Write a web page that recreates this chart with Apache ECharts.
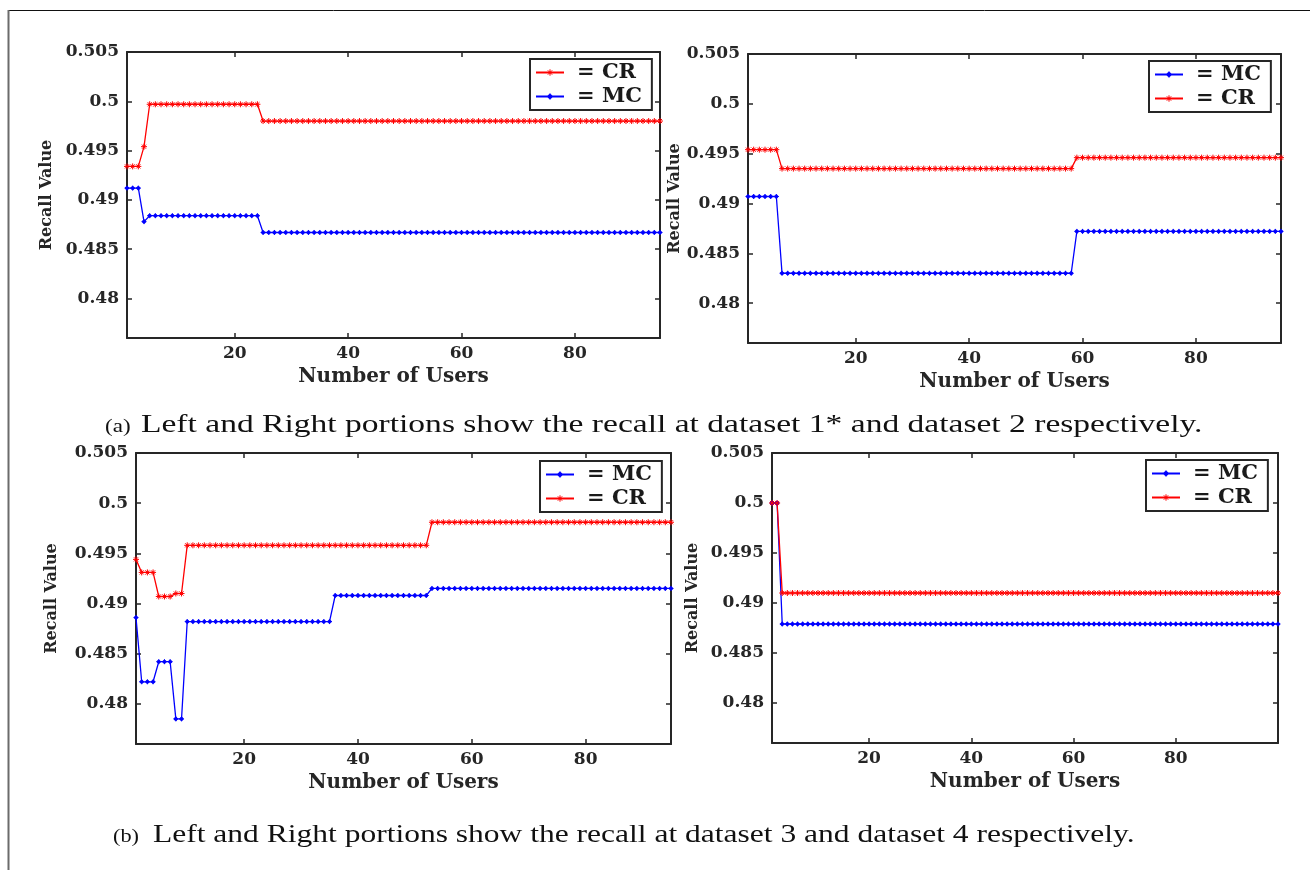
<!DOCTYPE html>
<html>
<head>
<meta charset="utf-8">
<script src="https://cdn.jsdelivr.net/npm/echarts@6/dist/echarts.min.js"></script>
<style>
  html, body { margin: 0; padding: 0; background: #ffffff; }
  #chart { width: 1310px; height: 870px; }
</style>
</head>
<body>
<div id="chart"></div>
<script>
// ---- Axis ticks ----
const yTicks = [0.48, 0.485, 0.49, 0.495, 0.5, 0.505];
const yTickLabels = ['0.48', '0.485', '0.49', '0.495', '0.5', '0.505'];
const xTicks = [20, 40, 60, 80];
const xTickLabels = ['20', '40', '60', '80'];

// ---- Recall per number of users (index 0 = 1 user) ----
// Dataset 1*, users 1-95
const d1CR = [
  0.4934,0.4934,0.4934,0.4954,0.4997,0.4997,0.4997,0.4997,0.4997,0.4997,
  0.4997,0.4997,0.4997,0.4997,0.4997,0.4997,0.4997,0.4997,0.4997,0.4997,
  0.4997,0.4997,0.4997,0.4997,0.4980,0.4980,0.4980,0.4980,0.4980,0.4980,
  0.4980,0.4980,0.4980,0.4980,0.4980,0.4980,0.4980,0.4980,0.4980,0.4980,
  0.4980,0.4980,0.4980,0.4980,0.4980,0.4980,0.4980,0.4980,0.4980,0.4980,
  0.4980,0.4980,0.4980,0.4980,0.4980,0.4980,0.4980,0.4980,0.4980,0.4980,
  0.4980,0.4980,0.4980,0.4980,0.4980,0.4980,0.4980,0.4980,0.4980,0.4980,
  0.4980,0.4980,0.4980,0.4980,0.4980,0.4980,0.4980,0.4980,0.4980,0.4980,
  0.4980,0.4980,0.4980,0.4980,0.4980,0.4980,0.4980,0.4980,0.4980,0.4980,
  0.4980,0.4980,0.4980,0.4980,0.4980
];
const d1MC = [
  0.4912,0.4912,0.4912,0.4878,0.4884,0.4884,0.4884,0.4884,0.4884,0.4884,
  0.4884,0.4884,0.4884,0.4884,0.4884,0.4884,0.4884,0.4884,0.4884,0.4884,
  0.4884,0.4884,0.4884,0.4884,0.4867,0.4867,0.4867,0.4867,0.4867,0.4867,
  0.4867,0.4867,0.4867,0.4867,0.4867,0.4867,0.4867,0.4867,0.4867,0.4867,
  0.4867,0.4867,0.4867,0.4867,0.4867,0.4867,0.4867,0.4867,0.4867,0.4867,
  0.4867,0.4867,0.4867,0.4867,0.4867,0.4867,0.4867,0.4867,0.4867,0.4867,
  0.4867,0.4867,0.4867,0.4867,0.4867,0.4867,0.4867,0.4867,0.4867,0.4867,
  0.4867,0.4867,0.4867,0.4867,0.4867,0.4867,0.4867,0.4867,0.4867,0.4867,
  0.4867,0.4867,0.4867,0.4867,0.4867,0.4867,0.4867,0.4867,0.4867,0.4867,
  0.4867,0.4867,0.4867,0.4867,0.4867
];

// Dataset 2, users 1-95
const d2MC = [
  0.4907,0.4907,0.4907,0.4907,0.4907,0.4907,0.4830,0.4830,0.4830,0.4830,
  0.4830,0.4830,0.4830,0.4830,0.4830,0.4830,0.4830,0.4830,0.4830,0.4830,
  0.4830,0.4830,0.4830,0.4830,0.4830,0.4830,0.4830,0.4830,0.4830,0.4830,
  0.4830,0.4830,0.4830,0.4830,0.4830,0.4830,0.4830,0.4830,0.4830,0.4830,
  0.4830,0.4830,0.4830,0.4830,0.4830,0.4830,0.4830,0.4830,0.4830,0.4830,
  0.4830,0.4830,0.4830,0.4830,0.4830,0.4830,0.4830,0.4830,0.4872,0.4872,
  0.4872,0.4872,0.4872,0.4872,0.4872,0.4872,0.4872,0.4872,0.4872,0.4872,
  0.4872,0.4872,0.4872,0.4872,0.4872,0.4872,0.4872,0.4872,0.4872,0.4872,
  0.4872,0.4872,0.4872,0.4872,0.4872,0.4872,0.4872,0.4872,0.4872,0.4872,
  0.4872,0.4872,0.4872,0.4872,0.4872
];
const d2CR = [
  0.4954,0.4954,0.4954,0.4954,0.4954,0.4954,0.4935,0.4935,0.4935,0.4935,
  0.4935,0.4935,0.4935,0.4935,0.4935,0.4935,0.4935,0.4935,0.4935,0.4935,
  0.4935,0.4935,0.4935,0.4935,0.4935,0.4935,0.4935,0.4935,0.4935,0.4935,
  0.4935,0.4935,0.4935,0.4935,0.4935,0.4935,0.4935,0.4935,0.4935,0.4935,
  0.4935,0.4935,0.4935,0.4935,0.4935,0.4935,0.4935,0.4935,0.4935,0.4935,
  0.4935,0.4935,0.4935,0.4935,0.4935,0.4935,0.4935,0.4935,0.4946,0.4946,
  0.4946,0.4946,0.4946,0.4946,0.4946,0.4946,0.4946,0.4946,0.4946,0.4946,
  0.4946,0.4946,0.4946,0.4946,0.4946,0.4946,0.4946,0.4946,0.4946,0.4946,
  0.4946,0.4946,0.4946,0.4946,0.4946,0.4946,0.4946,0.4946,0.4946,0.4946,
  0.4946,0.4946,0.4946,0.4946,0.4946
];

// Dataset 3, users 1-95
const d3MC = [
  0.4886,0.4822,0.4822,0.4822,0.4842,0.4842,0.4842,0.4785,0.4785,0.4882,
  0.4882,0.4882,0.4882,0.4882,0.4882,0.4882,0.4882,0.4882,0.4882,0.4882,
  0.4882,0.4882,0.4882,0.4882,0.4882,0.4882,0.4882,0.4882,0.4882,0.4882,
  0.4882,0.4882,0.4882,0.4882,0.4882,0.4908,0.4908,0.4908,0.4908,0.4908,
  0.4908,0.4908,0.4908,0.4908,0.4908,0.4908,0.4908,0.4908,0.4908,0.4908,
  0.4908,0.4908,0.4915,0.4915,0.4915,0.4915,0.4915,0.4915,0.4915,0.4915,
  0.4915,0.4915,0.4915,0.4915,0.4915,0.4915,0.4915,0.4915,0.4915,0.4915,
  0.4915,0.4915,0.4915,0.4915,0.4915,0.4915,0.4915,0.4915,0.4915,0.4915,
  0.4915,0.4915,0.4915,0.4915,0.4915,0.4915,0.4915,0.4915,0.4915,0.4915,
  0.4915,0.4915,0.4915,0.4915,0.4915
];
const d3CR = [
  0.4944,0.4931,0.4931,0.4931,0.4907,0.4907,0.4907,0.4910,0.4910,0.4958,
  0.4958,0.4958,0.4958,0.4958,0.4958,0.4958,0.4958,0.4958,0.4958,0.4958,
  0.4958,0.4958,0.4958,0.4958,0.4958,0.4958,0.4958,0.4958,0.4958,0.4958,
  0.4958,0.4958,0.4958,0.4958,0.4958,0.4958,0.4958,0.4958,0.4958,0.4958,
  0.4958,0.4958,0.4958,0.4958,0.4958,0.4958,0.4958,0.4958,0.4958,0.4958,
  0.4958,0.4958,0.4981,0.4981,0.4981,0.4981,0.4981,0.4981,0.4981,0.4981,
  0.4981,0.4981,0.4981,0.4981,0.4981,0.4981,0.4981,0.4981,0.4981,0.4981,
  0.4981,0.4981,0.4981,0.4981,0.4981,0.4981,0.4981,0.4981,0.4981,0.4981,
  0.4981,0.4981,0.4981,0.4981,0.4981,0.4981,0.4981,0.4981,0.4981,0.4981,
  0.4981,0.4981,0.4981,0.4981,0.4981
];

// Dataset 4, users 1-100
const d4MC = [
  0.5000,0.5000,0.4879,0.4879,0.4879,0.4879,0.4879,0.4879,0.4879,0.4879,
  0.4879,0.4879,0.4879,0.4879,0.4879,0.4879,0.4879,0.4879,0.4879,0.4879,
  0.4879,0.4879,0.4879,0.4879,0.4879,0.4879,0.4879,0.4879,0.4879,0.4879,
  0.4879,0.4879,0.4879,0.4879,0.4879,0.4879,0.4879,0.4879,0.4879,0.4879,
  0.4879,0.4879,0.4879,0.4879,0.4879,0.4879,0.4879,0.4879,0.4879,0.4879,
  0.4879,0.4879,0.4879,0.4879,0.4879,0.4879,0.4879,0.4879,0.4879,0.4879,
  0.4879,0.4879,0.4879,0.4879,0.4879,0.4879,0.4879,0.4879,0.4879,0.4879,
  0.4879,0.4879,0.4879,0.4879,0.4879,0.4879,0.4879,0.4879,0.4879,0.4879,
  0.4879,0.4879,0.4879,0.4879,0.4879,0.4879,0.4879,0.4879,0.4879,0.4879,
  0.4879,0.4879,0.4879,0.4879,0.4879,0.4879,0.4879,0.4879,0.4879,0.4879
];
const d4CR = [
  0.5000,0.5000,0.4910,0.4910,0.4910,0.4910,0.4910,0.4910,0.4910,0.4910,
  0.4910,0.4910,0.4910,0.4910,0.4910,0.4910,0.4910,0.4910,0.4910,0.4910,
  0.4910,0.4910,0.4910,0.4910,0.4910,0.4910,0.4910,0.4910,0.4910,0.4910,
  0.4910,0.4910,0.4910,0.4910,0.4910,0.4910,0.4910,0.4910,0.4910,0.4910,
  0.4910,0.4910,0.4910,0.4910,0.4910,0.4910,0.4910,0.4910,0.4910,0.4910,
  0.4910,0.4910,0.4910,0.4910,0.4910,0.4910,0.4910,0.4910,0.4910,0.4910,
  0.4910,0.4910,0.4910,0.4910,0.4910,0.4910,0.4910,0.4910,0.4910,0.4910,
  0.4910,0.4910,0.4910,0.4910,0.4910,0.4910,0.4910,0.4910,0.4910,0.4910,
  0.4910,0.4910,0.4910,0.4910,0.4910,0.4910,0.4910,0.4910,0.4910,0.4910,
  0.4910,0.4910,0.4910,0.4910,0.4910,0.4910,0.4910,0.4910,0.4910,0.4910
];

const captionA = ['(a)', 'Left and Right portions show the recall at dataset 1* and dataset 2 respectively.'];
const captionB = ['(b)', 'Left and Right portions show the recall at dataset 3 and dataset 4 respectively.'];

// ---- Styling ----
const RED = '#ff0000';
const BLUE = '#0000ff';
const AXIS = '#262626';
const SERIF_WIDE = 'DejaVu Serif';
const STAR = 'path://M5 0L5 10M0 5L10 5M1.6 1.6L8.4 8.4M1.6 8.4L8.4 1.6';
const DOT = 'path://M5 1L5 9M1 5L9 5M5 2.5A2.5 2.5 0 1 1 4.99 2.5Z';

const panels = [
  { grid: { left: 127, top: 52, width: 533, height: 286 }, xMax: 95,
    legend: { left: 530, top: 59 }, order: ['CR', 'MC'], MC: d1MC, CR: d1CR, yNameGap: 72 },
  { grid: { left: 748, top: 54, width: 533, height: 289 }, xMax: 95,
    legend: { left: 1149, top: 61 }, order: ['MC', 'CR'], MC: d2MC, CR: d2CR, yNameGap: 63 },
  { grid: { left: 136, top: 453, width: 535, height: 291 }, xMax: 95,
    legend: { left: 540, top: 461 }, order: ['MC', 'CR'], MC: d3MC, CR: d3CR, yNameGap: 76 },
  { grid: { left: 772, top: 453, width: 506, height: 290 }, xMax: 100,
    legend: { left: 1146, top: 460 }, order: ['MC', 'CR'], MC: d4MC, CR: d4CR, yNameGap: 71 }
];

function toPoints(values) {
  return values.map((v, i) => [i + 1, v]);
}
function labelFor(ticks, labels, v) {
  for (let i = 0; i < ticks.length; i++) {
    if (Math.abs(ticks[i] - v) < 1e-9) return labels[i];
  }
  return '';
}

const axisLine = { show: true, onZero: false, lineStyle: { color: AXIS, width: 2 } };
const tickLabelStyle = { fontFamily: SERIF_WIDE, fontWeight: 'bold', fontSize: 17, color: AXIS };

const grids = [], xAxes = [], yAxes = [], legends = [], series = [];

panels.forEach((p, i) => {
  grids.push(Object.assign({}, p.grid));

  // bottom axis with labels, top axis as the box edge
  xAxes.push({
    type: 'value', gridIndex: i, min: 1, max: p.xMax, position: 'bottom',
    axisLine: axisLine,
    axisTick: { show: true, inside: true, length: 5, customValues: xTicks, lineStyle: { color: AXIS, width: 1.5 } },
    axisLabel: Object.assign({ show: true, margin: 7, customValues: xTicks,
      formatter: v => labelFor(xTicks, xTickLabels, v) }, tickLabelStyle),
    splitLine: { show: false },
    name: 'Number of Users', nameLocation: 'middle', nameGap: 29,
    nameTextStyle: { fontFamily: SERIF_WIDE, fontWeight: 'bold', fontSize: 20, color: AXIS }
  });
  xAxes.push({
    type: 'value', gridIndex: i, min: 1, max: p.xMax, position: 'top',
    axisLine: axisLine,
    axisTick: { show: true, inside: true, length: 5, customValues: xTicks, lineStyle: { color: AXIS, width: 1.5 } },
    axisLabel: { show: false },
    splitLine: { show: false }
  });

  // left axis with labels, right axis as the box edge
  yAxes.push({
    type: 'value', gridIndex: i, min: 0.476, max: 0.505, position: 'left',
    axisLine: axisLine,
    axisTick: { show: true, inside: true, length: 5, customValues: yTicks, lineStyle: { color: AXIS, width: 1.5 } },
    axisLabel: Object.assign({ show: true, margin: 8, customValues: yTicks,
      formatter: v => labelFor(yTicks, yTickLabels, v) }, tickLabelStyle),
    splitLine: { show: false },
    name: 'Recall Value', nameLocation: 'middle', nameGap: p.yNameGap, nameRotate: 90,
    nameTextStyle: { fontFamily: SERIF_WIDE, fontWeight: 'bold', fontSize: 16, color: AXIS }
  });
  yAxes.push({
    type: 'value', gridIndex: i, min: 0.476, max: 0.505, position: 'right',
    axisLine: axisLine,
    axisTick: { show: true, inside: true, length: 5, customValues: yTicks, lineStyle: { color: AXIS, width: 1.5 } },
    axisLabel: { show: false },
    splitLine: { show: false }
  });

  legends.push({
    orient: 'vertical', left: p.legend.left, top: p.legend.top,
    data: p.order, selectedMode: false,
    itemWidth: 28, itemHeight: 8, itemGap: 3,
    padding: [3, 10, 3, 5],
    borderColor: AXIS, borderWidth: 2, backgroundColor: '#ffffff',
    formatter: '= {name}',
    itemStyle: { borderWidth: 1 },
    textStyle: { fontFamily: SERIF_WIDE, fontWeight: 'bold', fontSize: 21, color: '#1a1a1a', padding: [0, 0, 0, 8] }
  });

  p.order.forEach(name => {
    const color = name === 'CR' ? RED : BLUE;
    series.push({
      type: 'line', name: name,
      xAxisIndex: 2 * i, yAxisIndex: 2 * i,
      data: toPoints(p[name]),
      symbol: name === 'CR' ? STAR : DOT,
      symbolSize: name === 'CR' ? 6 : 5,
      showAllSymbol: true,
      lineStyle: { color: color, width: 1.3 },
      itemStyle: { color: color, borderColor: color, borderWidth: 1 },
      emphasis: { disabled: true },
      silent: true
    });
  });
});

// sub-figure captions are set in Times-style type, widened to the figure's aspect
const captionFont = 'Liberation Serif';
const graphics = [
  // page frame
  { type: 'line', shape: { x1: 8, y1: 10.5, x2: 1310, y2: 10.5 }, style: { stroke: '#111111', lineWidth: 1 } },
  { type: 'line', shape: { x1: 8.5, y1: 10, x2: 8.5, y2: 870 }, style: { stroke: '#6b6b6b', lineWidth: 2 } },
  { type: 'text', x: 105, y: 427, scaleX: 1.28, style: { text: captionA[0], font: '18px "' + captionFont + '"', fill: '#111111', verticalAlign: 'middle' } },
  { type: 'text', x: 141, y: 425, scaleX: 1.29, style: { text: captionA[1], font: '26px "' + captionFont + '"', fill: '#111111', verticalAlign: 'middle' } },
  { type: 'text', x: 113, y: 837, scaleX: 1.24, style: { text: captionB[0], font: '18px "' + captionFont + '"', fill: '#111111', verticalAlign: 'middle' } },
  { type: 'text', x: 153, y: 835, scaleX: 1.212, style: { text: captionB[1], font: '26px "' + captionFont + '"', fill: '#111111', verticalAlign: 'middle' } }
];

const chart = echarts.init(document.getElementById('chart'), null, { renderer: 'canvas' });
chart.setOption({
  backgroundColor: '#ffffff',
  animation: false,
  grid: grids,
  xAxis: xAxes,
  yAxis: yAxes,
  legend: legends,
  series: series,
  graphic: graphics
});
</script>
</body>
</html>
